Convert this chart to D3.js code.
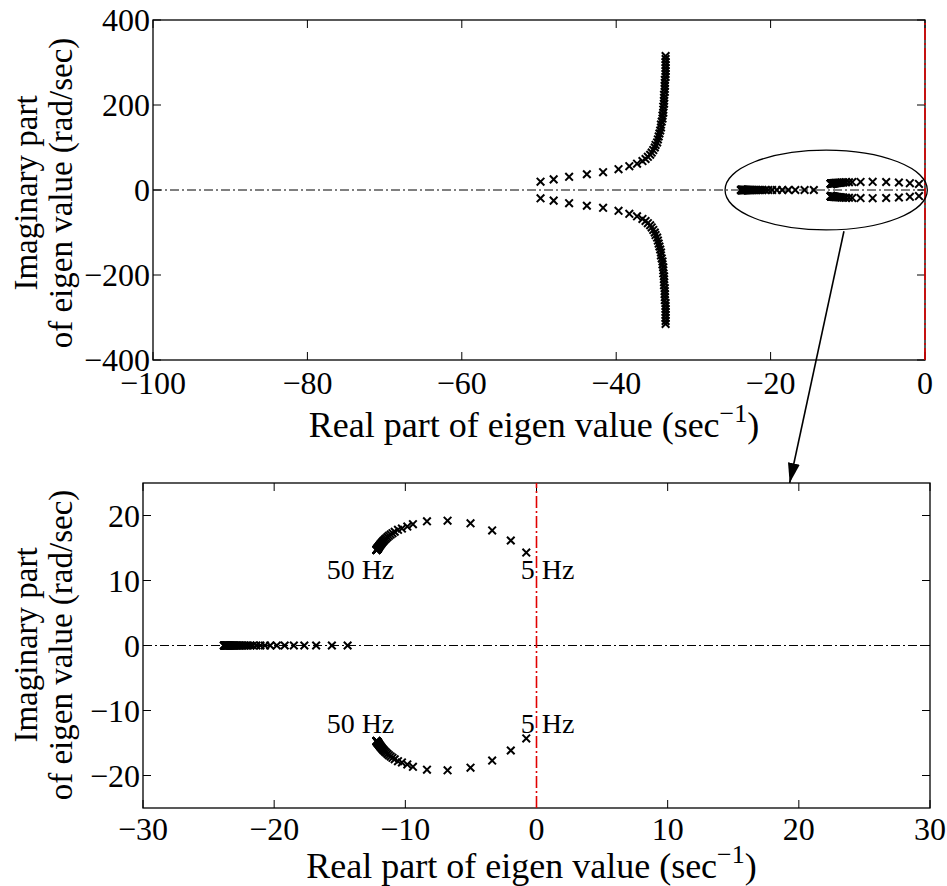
<!DOCTYPE html>
<html>
<head>
<meta charset="utf-8">
<script src="https://cdn.jsdelivr.net/npm/d3@7"></script>
<style>
  html, body { margin: 0; padding: 0; background: #fff; }
  svg { display: block; font-family: "Liberation Serif", "Times New Roman", serif; }
</style>
</head>
<body>
<svg id="chart" width="947" height="886"></svg>
<script>
// Upper branch of the oscillatory mode (conjugates are drawn mirrored)
const branchRe = [-49.8, -48.1, -46.1, -43.8, -41.7, -39.7, -38.3, -37.3, -36.6,
  -36.2, -35.9, -35.6, -35.4, -35.2, -35.0, -34.9, -34.7, -34.6,
  -34.5, -34.4, -34.3, -34.2, -34.2, -34.1, -34.0, -34.0, -33.9,
  -33.9, -33.9, -33.8, -33.8, -33.8, -33.8, -33.7, -33.7,
  -33.7, -33.7, -33.7, -33.6, -33.6, -33.6, -33.6, -33.6, -33.6, -33.6, -33.6];
const branchIm = [19.5, 25, 31, 37, 42, 49, 56, 62, 68,
  73, 78, 83, 88, 94, 100, 106, 112, 119,
  126, 133, 140, 147, 154, 161, 168, 175, 182,
  189, 196, 203, 210, 217, 224, 231, 238,
  245, 252, 259, 266, 273, 280, 287, 294, 301, 308, 315];

// Real eigenvalues sitting on the real axis
const realAxisRe = [-14.4, -15.6, -16.8, -17.7, -18.5, -19.2, -19.8, -20.3, -20.7, -21.05,
  -21.35, -21.6, -21.8, -22.0, -22.15, -22.3, -22.42, -22.54, -22.65, -22.75,
  -22.84, -22.93, -23.01, -23.08, -23.15, -23.21, -23.27, -23.32, -23.37, -23.42,
  -23.46, -23.5, -23.54, -23.57, -23.6, -23.63, -23.66, -23.68, -23.7, -23.72,
  -23.74, -23.76, -23.78, -23.8, -23.82, -23.84];

// Low-frequency mode, 5 Hz to 50 Hz (upper half; conjugates mirrored)
const loopRe = [-0.78, -1.96, -3.38, -5.03, -6.78, -8.35, -9.42, -9.85, -10.26, -10.56,
  -10.81, -10.98, -11.12, -11.25, -11.36, -11.46, -11.55, -11.63, -11.7, -11.76,
  -11.81, -11.86, -11.9, -11.94, -11.97, -12.0, -12.02, -12.04, -12.06, -12.08,
  -12.09, -12.1, -12.11, -12.12, -12.13, -12.14, -12.15, -12.16, -12.17, -12.17,
  -12.18, -12.18, -12.19, -12.19, -12.2, -12.2];
const loopIm = [14.3, 16.15, 17.7, 18.8, 19.2, 19.1, 18.66, 18.3, 17.99, 17.8,
  17.5, 17.28, 17.07, 16.87, 16.68, 16.5, 16.33, 16.17, 16.02, 15.88,
  15.75, 15.63, 15.52, 15.42, 15.33, 15.25, 15.18, 15.12, 15.07, 15.02,
  14.98, 14.95, 14.92, 14.89, 14.87, 14.85, 14.83, 14.81, 14.79, 14.77,
  14.75, 14.74, 14.72, 14.71, 14.7, 14.69];

const topXTicks = [-100, -80, -60, -40, -20, 0];
const topYTicks = [-400, -200, 0, 200, 400];
const botXTicks = [-30, -20, -10, 0, 10, 20, 30];
const botYTicks = [-20, -10, 0, 10, 20];

const freqLabels = [
  { text: "50 Hz", re: -16.0, im: 10.3 },
  { text: "5 Hz", re: -1.2, im: 10.3 },
  { text: "50 Hz", re: -16.0, im: -13.4 },
  { text: "5 Hz", re: -1.2, im: -13.4 }
];

const svg = d3.select("#chart");

function buildPoints() {
  const pts = [];
  branchRe.forEach((r, i) => { pts.push([r, branchIm[i]]); pts.push([r, -branchIm[i]]); });
  realAxisRe.forEach(r => pts.push([r, 0]));
  loopRe.forEach((r, i) => { pts.push([r, loopIm[i]]); pts.push([r, -loopIm[i]]); });
  return pts;
}
const points = buildPoints();

const TICK_FONT = 32;
const LABEL_FONT = 36;
const YLABEL_FONT = 33;

function drawPanel(cfg) {
  const { left, right, top, bottom, xDomain, yDomain, xTicks, yTicks, yLabelCenter } = cfg;
  const x = d3.scaleLinear().domain(xDomain).range([left, right]);
  const y = d3.scaleLinear().domain(yDomain).range([bottom, top]);
  const g = svg.append("g");

  const clipId = "clip" + top;
  g.append("clipPath").attr("id", clipId)
    .append("rect").attr("x", left).attr("y", top).attr("width", right - left).attr("height", bottom - top);

  // zero line of the imaginary axis
  g.append("line")
    .attr("x1", x(xDomain[0])).attr("x2", x(xDomain[1]))
    .attr("y1", y(0)).attr("y2", y(0))
    .attr("stroke", "#000").attr("stroke-width", 1)
    .attr("stroke-dasharray", "9,3,2,3");

  // eigenvalue markers
  const inside = points.filter(p => p[0] >= xDomain[0] && p[0] <= xDomain[1] && p[1] >= yDomain[0] && p[1] <= yDomain[1]);
  const s = 3.8;
  g.append("g").attr("clip-path", `url(#${clipId})`)
    .selectAll("path").data(inside).join("path")
    .attr("d", p => {
      const cx = x(p[0]), cy = y(p[1]);
      return `M${cx - s},${cy - s}L${cx + s},${cy + s}M${cx - s},${cy + s}L${cx + s},${cy - s}`;
    })
    .attr("stroke", "#000").attr("stroke-width", 2).attr("fill", "none");

  // frame
  g.append("rect").attr("x", left).attr("y", top)
    .attr("width", right - left).attr("height", bottom - top)
    .attr("fill", "none").attr("stroke", "#000").attr("stroke-width", 1.3);

  // inward ticks on all four sides
  const tl = 8;
  const tickG = g.append("g").attr("stroke", "#000").attr("stroke-width", 1);
  xTicks.forEach(t => {
    tickG.append("line").attr("x1", x(t)).attr("x2", x(t)).attr("y1", bottom).attr("y2", bottom - tl);
    tickG.append("line").attr("x1", x(t)).attr("x2", x(t)).attr("y1", top).attr("y2", top + tl);
  });
  yTicks.forEach(t => {
    tickG.append("line").attr("x1", left).attr("x2", left + tl).attr("y1", y(t)).attr("y2", y(t));
    tickG.append("line").attr("x1", right).attr("x2", right - tl).attr("y1", y(t)).attr("y2", y(t));
  });

  const fmt = d3.format("d");
  g.append("g").selectAll("text").data(xTicks).join("text")
    .attr("x", d => x(d)).attr("y", bottom + cfg.xTickOffset)
    .attr("text-anchor", "middle").attr("font-size", TICK_FONT)
    .text(d => fmt(d));
  g.append("g").selectAll("text").data(yTicks).join("text")
    .attr("x", left - 3).attr("y", d => y(d) + 11)
    .attr("text-anchor", "end").attr("font-size", TICK_FONT)
    .text(d => fmt(d));

  // axis titles
  const xl = g.append("text")
    .attr("x", (left + right) / 2 - 5 + cfg.xLabelShift).attr("y", bottom + cfg.xLabelOffset)
    .attr("text-anchor", "middle").attr("font-size", LABEL_FONT);
  xl.append("tspan").text("Real part of eigen value (sec");
  xl.append("tspan").attr("dy", -15).attr("font-size", LABEL_FONT * 0.72).text("\u22121");
  xl.append("tspan").attr("dy", 15).text(")");

  const yl = g.append("text")
    .attr("transform", `translate(0,${yLabelCenter}) rotate(-90)`)
    .attr("text-anchor", "middle").attr("font-size", YLABEL_FONT);
  yl.append("tspan").attr("x", 0).attr("y", 37).text("Imaginary part");
  yl.append("tspan").attr("x", 0).attr("y", 72).text("of eigen value (rad/sec)");

  return { x, y, g };
}

const topPanel = drawPanel({
  left: 153, right: 925, top: 20, bottom: 360,
  xDomain: [-100, 0], yDomain: [-400, 400],
  xTicks: topXTicks, yTicks: topYTicks, yLabelCenter: 193,
  xTickOffset: 34, xLabelOffset: 77, xLabelShift: 0
});

const botPanel = drawPanel({
  left: 143, right: 930, top: 483, bottom: 808,
  xDomain: [-30, 30], yDomain: [-25, 25],
  xTickOffset: 32, yLabelCenter: 645,
  xTicks: botXTicks, yTicks: botYTicks,
  xLabelOffset: 70, xLabelShift: 0
});

// stability boundary (real part = 0)
[topPanel, botPanel].forEach(p => {
  const yd = p.y.domain();
  p.g.append("line")
    .attr("x1", p.x(0)).attr("x2", p.x(0))
    .attr("y1", p.y(yd[0])).attr("y2", p.y(yd[1]))
    .attr("stroke", "#e00000").attr("stroke-width", 1.6)
    .attr("stroke-dasharray", "12,3,2,3");
});

// frequency annotations
botPanel.g.append("g").selectAll("text").data(freqLabels).join("text")
  .attr("x", d => botPanel.x(d.re)).attr("y", d => botPanel.y(d.im))
  .attr("font-size", 28).text(d => d.text);

// zoom region marker
const ellCx = -12.8, ellRx = 13.1, ellRy = 94;
svg.append("ellipse")
  .attr("cx", topPanel.x(ellCx)).attr("cy", topPanel.y(0))
  .attr("rx", topPanel.x(ellCx + ellRx) - topPanel.x(ellCx))
  .attr("ry", topPanel.y(0) - topPanel.y(ellRy))
  .attr("fill", "none").attr("stroke", "#000").attr("stroke-width", 1.3);

// arrow from the marked region down to the enlarged panel
const ax1 = topPanel.x(-10.5), ay1 = topPanel.y(-97);
const ax2 = botPanel.x(19.3), ay2 = botPanel.y(25);
svg.append("defs").append("marker")
  .attr("id", "head").attr("viewBox", "0 0 20 12")
  .attr("refX", 20).attr("refY", 6)
  .attr("markerWidth", 20).attr("markerHeight", 12)
  .attr("markerUnits", "userSpaceOnUse").attr("orient", "auto")
  .append("path").attr("d", "M0,0L20,6L0,12Z").attr("fill", "#000");
svg.append("line")
  .attr("x1", ax1).attr("y1", ay1).attr("x2", ax2).attr("y2", ay2)
  .attr("stroke", "#000").attr("stroke-width", 1.6)
  .attr("marker-end", "url(#head)");
</script>
</body>
</html>
